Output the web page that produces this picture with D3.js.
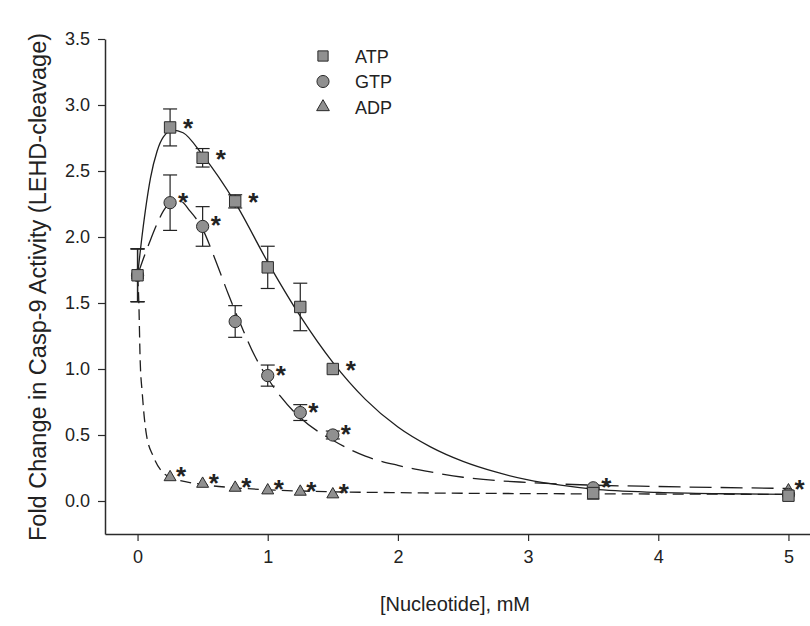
<!DOCTYPE html>
<html>
<head>
<meta charset="utf-8">
<script src="https://cdn.jsdelivr.net/npm/d3@7"></script>
<style>
  html, body { margin: 0; padding: 0; background: #fff; }
  svg { display: block; }
  text { font-family: "Liberation Sans", Arial, sans-serif; fill: #222; }
</style>
</head>
<body>
<svg id="chart" width="810" height="626"></svg>
<script>
// ---- data ----
const concentrations = [0, 0.25, 0.5, 0.75, 1.0, 1.25, 1.5, 3.5, 5.0];

const atpMean = [1.71, 2.83, 2.60, 2.27, 1.77, 1.47, 1.00, 0.06, 0.04];
const atpErr  = [0.20, 0.14, 0.07, 0.05, 0.16, 0.18, 0.02, 0.01, 0.01];
const atpSig  = [false, true, true, true, false, false, true, false, false];

const gtpMean = [1.71, 2.26, 2.08, 1.36, 0.95, 0.67, 0.50, 0.10, 0.05];
const gtpErr  = [0.20, 0.21, 0.15, 0.12, 0.08, 0.06, 0.03, 0.01, 0.01];
const gtpSig  = [false, true, true, false, true, true, true, true, false];

const adpMean = [1.71, 0.18, 0.13, 0.10, 0.08, 0.07, 0.05, 0.04, 0.08];
const adpErr  = [0.20, 0.01, 0.01, 0.01, 0.01, 0.01, 0.01, 0.01, 0.01];
const adpSig  = [false, true, true, true, true, true, true, false, true];

// fitted curves as drawn in the figure (x, y)
const atpFitX = [0, 0.03, 0.06, 0.1, 0.15, 0.2, 0.27, 0.35, 0.5, 0.75, 1.0, 1.25, 1.5, 1.75, 2.0, 2.25, 2.5, 2.75, 3.0, 3.25, 3.5, 4.0, 4.5, 5.0];
const atpFitY = [1.71, 1.97, 2.2, 2.45, 2.65, 2.76, 2.81, 2.79, 2.62, 2.26, 1.81, 1.40, 1.05, 0.77, 0.56, 0.41, 0.30, 0.22, 0.16, 0.12, 0.09, 0.065, 0.055, 0.05];

const gtpFitX = [0, 0.05, 0.1, 0.15, 0.2, 0.27, 0.33, 0.4, 0.5, 0.6, 0.7, 0.8, 0.9, 1.0, 1.1, 1.25, 1.5, 1.75, 2.0, 2.25, 2.5, 3.0, 3.5, 4.0, 5.0];
const gtpFitY = [1.71, 1.85, 1.98, 2.1, 2.2, 2.27, 2.27, 2.2, 2.06, 1.82, 1.56, 1.32, 1.1, 0.93, 0.79, 0.63, 0.46, 0.34, 0.27, 0.22, 0.18, 0.14, 0.12, 0.11, 0.095];

const adpFitX = [0, 0.01, 0.02, 0.036, 0.067, 0.12, 0.2, 0.25, 0.5, 0.75, 1.0, 1.5, 2.0, 3.0, 4.0, 5.0];
const adpFitY = [1.71, 1.5, 1.07, 0.82, 0.51, 0.34, 0.21, 0.18, 0.125, 0.10, 0.085, 0.07, 0.063, 0.056, 0.053, 0.05];

const xTicks = [0, 1, 2, 3, 4, 5];
const yTicks = [0.0, 0.5, 1.0, 1.5, 2.0, 2.5, 3.0, 3.5];
const seriesNames = ["ATP", "GTP", "ADP"];

// ---- drawing ----
const svg = d3.select("#chart");
const x = d3.scaleLinear().domain([-0.25, 5.25]).range([105, 821]);
const y = d3.scaleLinear().domain([-0.25, 3.5]).range([534, 39]);

const axisColor = "#2b2b2b";
const markFill = "#909090";
const markStroke = "#2a2a2a";

// axes
const gx = svg.append("g").attr("transform", "translate(0,534)")
  .call(d3.axisBottom(x).tickValues(xTicks).tickFormat(d3.format("d")).tickSizeOuter(0).tickSizeInner(7).tickPadding(9));
const gy = svg.append("g").attr("transform", "translate(105,0)")
  .call(d3.axisLeft(y).tickValues(yTicks).tickFormat(d3.format(".1f")).tickSizeOuter(0).tickSizeInner(7).tickPadding(8));
[gx, gy].forEach(g => {
  g.select(".domain").attr("stroke", axisColor).attr("stroke-width", 1.5);
  g.selectAll(".tick line").attr("stroke", axisColor).attr("stroke-width", 1.2);
  g.selectAll(".tick text").attr("font-size", 18).attr("fill", "#222")
    .attr("font-family", "'Liberation Sans', Arial, sans-serif");
});

// axis titles
svg.append("text").attr("x", 455).attr("y", 611).attr("text-anchor", "middle")
  .attr("font-size", 20).text("[Nucleotide], mM");
svg.append("text").attr("transform", "translate(46,287) rotate(-90)").attr("text-anchor", "middle")
  .attr("font-size", 23.5).text("Fold Change in Casp-9 Activity (LEHD-cleavage)");

// curves
const line = d3.line().x(d => x(d[0])).y(d => y(d[1])).curve(d3.curveMonotoneX);
const fits = [
  { X: adpFitX, Y: adpFitY, dash: "11,6" },
  { X: gtpFitX, Y: gtpFitY, dash: "22,9" },
  { X: atpFitX, Y: atpFitY, dash: null }
];
fits.forEach(f => {
  const pts = f.X.map((v, i) => [v, f.Y[i]]);
  svg.append("path").datum(pts).attr("d", line)
    .attr("fill", "none").attr("stroke", "#1e1e1e").attr("stroke-width", 1.3)
    .attr("stroke-dasharray", f.dash);
});

// series
const series = [
  { name: "ADP", mean: adpMean, err: adpErr, sig: adpSig, sym: d3.symbolTriangle, size: 62, star: [6, 8] },
  { name: "GTP", mean: gtpMean, err: gtpErr, sig: gtpSig, sym: d3.symbolCircle, size: 118, star: [8, 8] },
  { name: "ATP", mean: atpMean, err: atpErr, sig: atpSig, sym: d3.symbolSquare, size: 130, star: [13, 10] }
];

series.forEach(s => {
  const g = svg.append("g");
  const pts = concentrations.map((c, i) => ({ c, m: s.mean[i], e: s.err[i], sig: s.sig[i] }));
  // error bars
  pts.filter(p => p.e >= 0.03).forEach(p => {
    const cx = x(p.c);
    g.append("line").attr("x1", cx).attr("x2", cx).attr("y1", y(p.m - p.e)).attr("y2", y(p.m + p.e))
      .attr("stroke", "#222").attr("stroke-width", 1.2);
    [p.m - p.e, p.m + p.e].forEach(v => {
      g.append("line").attr("x1", cx - 7).attr("x2", cx + 7).attr("y1", y(v)).attr("y2", y(v))
        .attr("stroke", "#222").attr("stroke-width", 1.2);
    });
  });
  // markers
  g.selectAll("path.mk").data(pts).enter().append("path").attr("class", "mk")
    .attr("d", d3.symbol().type(s.sym).size(s.size))
    .attr("transform", p => `translate(${x(p.c)},${y(p.m)})`)
    .attr("fill", markFill).attr("stroke", markStroke).attr("stroke-width", 1);
  // significance stars
  g.selectAll("text.st").data(pts.filter(p => p.sig)).enter().append("text").attr("class", "st")
    .attr("x", p => x(p.c) + s.star[0]).attr("y", p => y(p.m) + s.star[1])
    .attr("font-size", 26).attr("font-weight", "bold").attr("fill", "#111").text("*");
});

// legend
const legend = svg.append("g");
const legendSyms = [d3.symbolSquare, d3.symbolCircle, d3.symbolTriangle];
const legendSizes = [105, 115, 70];
seriesNames.forEach((n, i) => {
  const ly = 56 + i * 25.5;
  legend.append("path").attr("d", d3.symbol().type(legendSyms[i]).size(legendSizes[i]))
    .attr("transform", `translate(323,${ly})`)
    .attr("fill", markFill).attr("stroke", markStroke).attr("stroke-width", 1);
  legend.append("text").attr("x", 355).attr("y", ly + 6.5).attr("font-size", 18).text(n);
});
</script>
</body>
</html>
